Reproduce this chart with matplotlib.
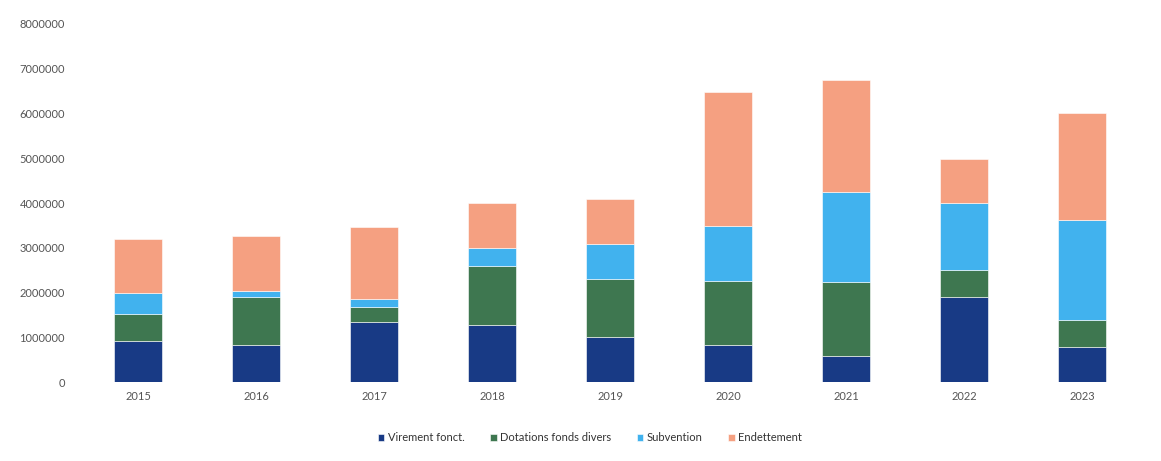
import matplotlib.pyplot as plt
import numpy as np

plt.rcParams['font.family'] = ['Lato', 'DejaVu Sans']

# Data (values in euros)
years = ['2015', '2016', '2017', '2018', '2019', '2020', '2021', '2022', '2023']
virement = [930000, 830000, 1340000, 1270000, 1010000, 830000, 580000, 1900000, 780000]
dotations = [600000, 1070000, 340000, 1320000, 1290000, 1430000, 1660000, 600000, 610000]
subvention = [470000, 130000, 170000, 400000, 780000, 1230000, 2010000, 1500000, 2230000]
endettement = [1200000, 1230000, 1610000, 1010000, 1010000, 2990000, 2500000, 980000, 2390000]

series = [
    ('Virement fonct.', virement, '#183A85'),
    ('Dotations fonds divers', dotations, '#3E7750'),
    ('Subvention', subvention, '#41B2EE'),
    ('Endettement', endettement, '#F5A081'),
]

fig = plt.figure(figsize=(11.61, 4.61), dpi=100)
ax = fig.add_axes([0.068, 0.171, 0.915, 0.777])

x = np.arange(len(years))
bottom = np.zeros(len(years))
for label, vals, color in series:
    ax.bar(x, vals, width=0.41, bottom=bottom, color=color, label=label,
           edgecolor='white', linewidth=0.4)
    bottom += np.array(vals)

ax.set_xlim(-0.5, 8.5)
ax.set_ylim(0, 8000000)
ax.set_yticks(np.arange(0, 8000001, 1000000))
ax.set_yticklabels([str(v) for v in range(0, 8000001, 1000000)])
ax.set_xticks(x)
ax.set_xticklabels(years)
ax.tick_params(axis='both', length=0, labelsize=8, colors='#555555')
ax.tick_params(axis='y', pad=10)
ax.tick_params(axis='x', pad=6)
for s in ax.spines.values():
    s.set_visible(False)

ax.legend(loc='center', bbox_to_anchor=(0.481, -0.155), ncol=4, frameon=False,
          fontsize=8, handlelength=0.6, handleheight=0.6, handletextpad=0.3,
          columnspacing=2.3, labelcolor='#333333')

fig.savefig('out.png', dpi=100)
